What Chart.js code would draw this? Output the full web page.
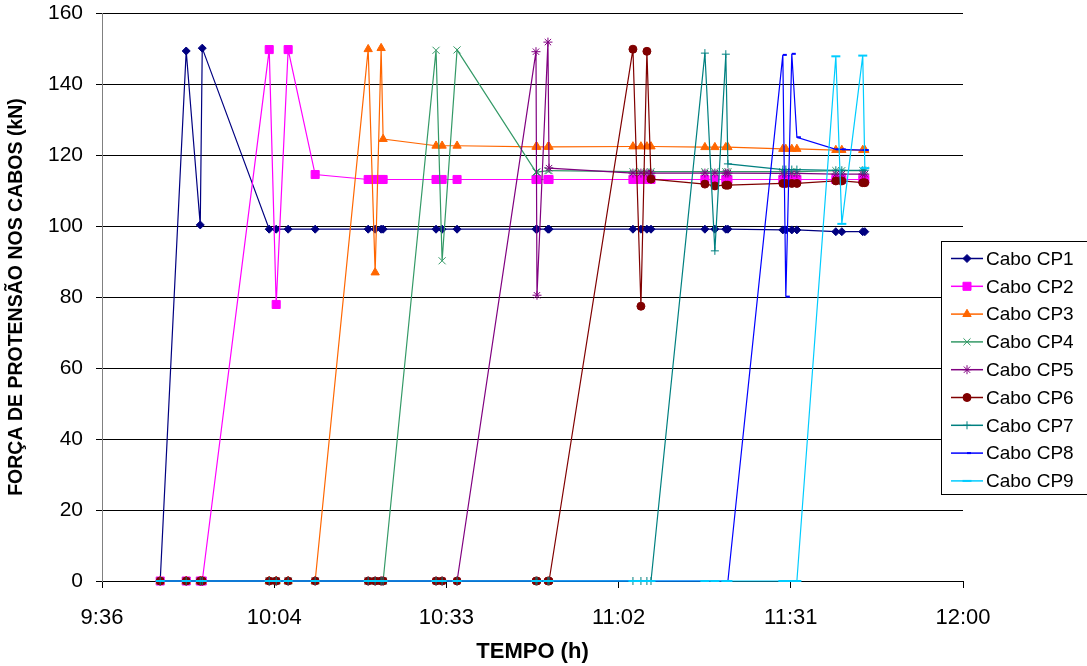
<!DOCTYPE html>
<html>
<head>
<meta charset="utf-8">
<script src="https://cdn.jsdelivr.net/npm/chart.js@4.4.1/dist/chart.umd.min.js"></script>
<style>
  html, body { margin: 0; padding: 0; background: #fff; }
  #wrap { width: 1087px; height: 666px; }
</style>
</head>
<body>
<div id="wrap"><canvas id="grafico" width="1087" height="666"></canvas></div>
<script>
// horario das leituras (h:mm:ss), comum a todos os cabos
const tempos = [
  '9:45:44', '9:50:05', '9:52:26', '9:52:46', '10:03:58', '10:05:08', '10:07:08', '10:11:39',
  '10:20:31', '10:21:41', '10:22:41', '10:23:01', '10:31:52', '10:32:53', '10:35:23',
  '10:48:35', '10:48:45', '10:50:35', '10:50:46', '11:04:48', '11:06:08', '11:07:08', '11:07:49',
  '11:16:50', '11:18:30', '11:20:20', '11:20:41', '11:29:52', '11:30:22', '11:31:22', '11:32:13',
  '11:38:44', '11:39:44', '11:43:14', '11:43:35'
];

// forca em cada cabo (kN)
const cp1 = [0, 149.3, 100.3, 150.1, 99.1, 99.1, 99.1, 99.1, 99.1, 99.1, 99.1, 99.1, 99.1, 99.1, 99.1,
  99.1, 99.1, 99.1, 99.1, 99.1, 99.1, 99.1, 99.1, 99.1, 99.1, 99.1, 99.1, 98.9, 98.9, 98.9, 98.9,
  98.4, 98.4, 98.4, 98.4];
const cp2 = [0, 0, 0, 0, 149.7, 77.9, 149.7, 114.5, 113.1, 113.1, 113.1, 113.1, 113.1, 113.1, 113.1,
  113.1, 113.1, 113.1, 113.1, 113.1, 113.1, 113.1, 113.1, 113.1, 113.1, 113.1, 113.1, 113.1, 113.1, 113.1, 113.1,
  113.1, 113.1, 113.1, 113.1];
const cp3 = [0, 0, 0, 0, 0, 0, 0, 0, 149.8, 86.9, 150.1, 124.5, 122.6, 122.6, 122.6,
  122.3, 122.3, 122.3, 122.3, 122.4, 122.4, 122.4, 122.4, 122.2, 122.2, 122.2, 122.2, 121.7, 121.7, 121.7, 121.7,
  121.4, 121.4, 121.4, 121.4];
const cp4 = [0, 0, 0, 0, 0, 0, 0, 0, 0, 0, 0, 0, 149.5, 90.2, 149.6,
  115.2, 115.2, 115.6, 115.6, 115.3, 115.3, 115.3, 115.3, 115.3, 115.3, 115.3, 115.3, 115.3, 115.3, 115.3, 115.3,
  115.6, 115.6, 115.6, 115.6];
const cp5 = [0, 0, 0, 0, 0, 0, 0, 0, 0, 0, 0, 0, 0, 0, 0,
  149.1, 80.5, 151.8, 116.3, 114.9, 114.9, 114.9, 114.9, 114.9, 114.9, 114.9, 114.9, 114.8, 114.8, 114.8, 114.8,
  114.6, 114.6, 114.6, 114.6];
const cp6 = [0, 0, 0, 0, 0, 0, 0, 0, 0, 0, 0, 0, 0, 0, 0,
  0, 0, 0, 0, 149.8, 77.4, 149.2, 113.2, 111.8, 111.3, 111.5, 111.5, 112.0, 112.0, 112.0, 112.0,
  112.7, 112.7, 112.2, 112.2];
const cp7 = [0, 0, 0, 0, 0, 0, 0, 0, 0, 0, 0, 0, 0, 0, 0,
  0, 0, 0, 0, 0, 0, 0, 0, 148.7, 93.0, 148.4, 117.5, 115.9, 115.9, 115.9, 115.9,
  115.7, 115.7, 115.7, 115.7];
const cp8 = [0, 0, 0, 0, 0, 0, 0, 0, 0, 0, 0, 0, 0, 0, 0,
  0, 0, 0, 0, 0, 0, 0, 0, 0, 0, 0, 0, 148.2, 80.1, 148.5, 125.0,
  121.6, 121.6, 121.4, 121.4];
const cp9 = [0, 0, 0, 0, 0, 0, 0, 0, 0, 0, 0, 0, 0, 0, 0,
  0, 0, 0, 0, 0, 0, 0, 0, 0, 0, 0, 0, 0, 0, 0, 0,
  147.8, 100.6, 148.0, 116.3];

const nomes = ['Cabo CP1', 'Cabo CP2', 'Cabo CP3', 'Cabo CP4', 'Cabo CP5', 'Cabo CP6', 'Cabo CP7', 'Cabo CP8', 'Cabo CP9'];
const series = [cp1, cp2, cp3, cp4, cp5, cp6, cp7, cp8, cp9];

// aparencia de cada serie
const cores = ['#000080', '#ff00ff', '#ff6600', '#339966', '#800080', '#800000', '#008080', '#0000ff', '#00ccff'];
const marcas = ['rectRot', 'rect', 'triangle', 'crossRot', 'star', 'circle', 'cross', 'dash', 'line'];
const raios = [4, 5.7, 4.8, 5, 4.5, 4, 4, 4, 4.5];
const bordas = [1, 1, 1, 1, 1, 1, 1, 2, 2];

const fonte = '"Liberation Sans", Arial, sans-serif';

function paraMinutos(t) {
  const p = t.split(':').map(Number);
  return p[0] * 60 + p[1] + (p[2] || 0) / 60;
}

function rotuloHora(v) {
  const m = Math.floor(v + 1e-6);
  return Math.floor(m / 60) + ':' + String(m % 60).padStart(2, '0');
}

// legenda no estilo do Excel (linha + marcador)
const legendaExcel = {
  id: 'legendaExcel',
  afterDraw(chart) {
    const ctx = chart.ctx;
    ctx.save();
    ctx.fillStyle = '#fff';
    ctx.fillRect(941, 241, 150, 253);
    ctx.strokeStyle = '#000';
    ctx.lineWidth = 1;
    ctx.strokeRect(941.5, 241.5, 150, 253);
    chart.data.datasets.forEach((ds, i) => {
      const y = 258.5 + i * 27.8;
      ctx.strokeStyle = ds.borderColor;
      ctx.lineWidth = 1.5;
      ctx.beginPath();
      ctx.moveTo(951, y);
      ctx.lineTo(983, y);
      ctx.stroke();
      ctx.fillStyle = ds.pointBackgroundColor;
      ctx.strokeStyle = ds.pointBorderColor;
      ctx.lineWidth = ds.pointBorderWidth;
      Chart.helpers.drawPoint(ctx, {
        pointStyle: ds.pointStyle, radius: ds.pointRadius,
        borderWidth: ds.pointBorderWidth, rotation: 0
      }, 967, y);
      ctx.fillStyle = '#000';
      ctx.font = '19px ' + fonte;
      ctx.textAlign = 'left';
      ctx.textBaseline = 'middle';
      ctx.fillText(ds.label, 986, y + 1);
    });
    ctx.restore();
  }
};

const datasets = series.map((valores, i) => ({
  label: nomes[i],
  data: tempos.map((t, k) => ({ x: paraMinutos(t), y: valores[k] })),
  showLine: true,
  borderColor: cores[i],
  backgroundColor: cores[i],
  borderWidth: 1.2,
  pointStyle: marcas[i],
  pointRadius: raios[i],
  pointBackgroundColor: cores[i],
  pointBorderColor: cores[i],
  pointBorderWidth: bordas[i],
  clip: false,
  order: 8 - i
}));

new Chart(document.getElementById('grafico'), {
  type: 'scatter',
  data: { datasets },
  plugins: [legendaExcel],
  options: {
    responsive: false,
    animation: false,
    events: [],
    layout: { padding: { top: 13, right: 124, left: 0, bottom: 0 } },
    plugins: { legend: { display: false }, tooltip: { enabled: false } },
    scales: {
      x: {
        type: 'linear',
        min: 576,
        max: 720,
        afterFit: s => { s.height = 85; s.paddingLeft = 0; s.paddingRight = 0; },
        ticks: {
          stepSize: 28.8,
          autoSkip: false,
          maxRotation: 0,
          padding: 17,
          color: '#000',
          font: { family: fonte, size: 22 },
          callback: v => rotuloHora(v)
        },
        grid: { drawOnChartArea: false, drawTicks: true, tickLength: 7, color: '#000' },
        border: { color: '#000', width: 1 },
        title: {
          display: true,
          text: 'TEMPO (h)',
          color: '#000',
          font: { family: fonte, size: 22, weight: 'bold' },
          padding: { top: 0, bottom: 1 }
        }
      },
      y: {
        min: 0,
        max: 160,
        afterFit: s => { s.width = 102; s.paddingTop = 0; s.paddingBottom = 0; },
        ticks: {
          stepSize: 20,
          padding: 13,
          color: '#000',
          font: { family: fonte, size: 21 }
        },
        grid: { color: '#000', lineWidth: 1, tickLength: 6 },
        border: { color: '#808080', width: 1 },
        title: {
          display: true,
          text: 'FORÇA DE PROTENSÃO NOS CABOS (kN)',
          color: '#000',
          font: { family: fonte, size: 19.5, weight: 'bold' },
          padding: { top: 5, bottom: 0 }
        }
      }
    }
  }
});
</script>
</body>
</html>
